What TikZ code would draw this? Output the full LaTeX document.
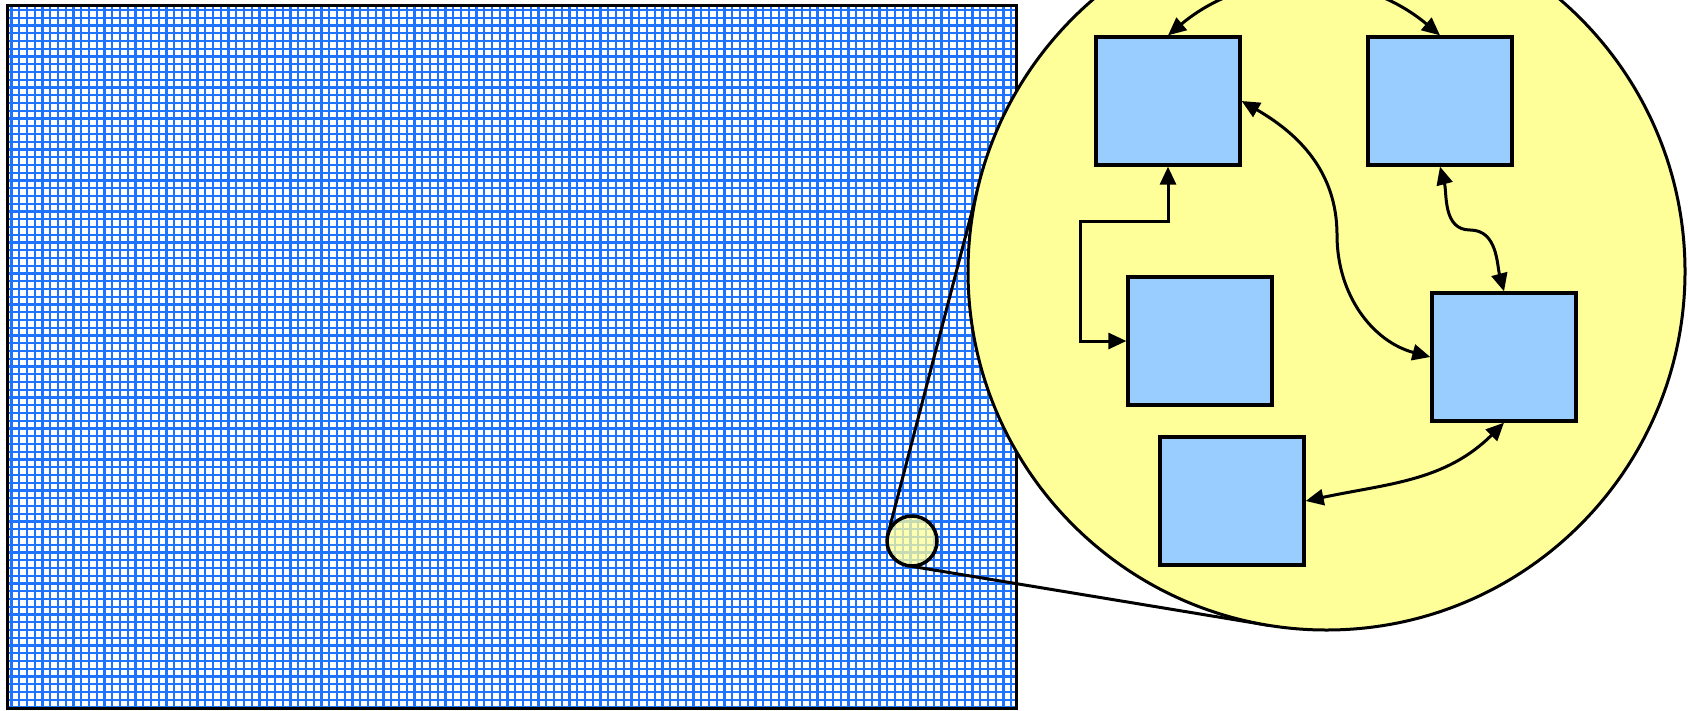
\documentclass[tikz,border=0pt]{standalone}
\usetikzlibrary{arrows.meta}
\definecolor{gridblue}{RGB}{30,115,255}
\definecolor{lensyellow}{RGB}{255,255,153}
\definecolor{cellblue}{RGB}{153,204,255}
\begin{document}
\begin{tikzpicture}[x=1pt,y=1pt,line width=3pt,
  >={Triangle[length=18pt,width=16pt]},
  cell/.style={draw,fill=cellblue,line width=3.3pt,minimum width=144pt,minimum height=128pt,inner sep=0pt},
  link/.style={<->,line width=3pt}]
  \useasboundingbox (0,0) rectangle (1688,-710);
  \clip (0,0) rectangle (1688,-710);

  % fine grid
  \begin{scope}
    \clip (7.5,-5.5) rectangle (1016,-708);
    \fill[white] (7.5,-5.5) rectangle (1016,-708);
    \foreach \x in {11.5,19.25,...,1016}
      \draw[gridblue,line width=2.2pt] (\x,-5.5) -- (\x,-708);
    \foreach \y in {10,17.75,...,708}
      \draw[gridblue,line width=2.2pt] (7.5,-\y) -- (1016,-\y);
  \end{scope}
  \draw (7.5,-5.5) rectangle (1016,-708);

  % magnifier
  \coordinate (S) at (912,-541);
  \coordinate (L) at (1326.5,-271.5);
  \coordinate (s1) at (887.8,-534.7);
  \coordinate (s2) at (907.9,-565.7);
  \coordinate (l1) at (979.9,-181.0);
  \coordinate (l2) at (1268.4,-625.3);

  \draw[fill=lensyellow,fill opacity=0.75,line width=3.5pt] (S) circle (25);
  \draw (s1) -- (l1);
  \draw (s2) -- (l2);
  \draw[fill=lensyellow] (L) circle (358.5);

  \node[cell] (A) at (1168,-101) {};
  \node[cell] (B) at (1440,-101) {};
  \node[cell] (C) at (1200,-341) {};
  \node[cell] (D) at (1504,-357) {};
  \node[cell] (E) at (1232,-501) {};

  \coordinate (bend1) at (1337,-235);
  \coordinate (bend2) at (1470,-230);
  \coordinate (elbow) at (1080,-221);

  \draw[link] (A.north) to[out=40,in=140] (B.north);
  \draw[link] (A.east) to[out=-30,in=90] (bend1) to[out=-90,in=165] (D.west);
  \draw[link] (B.south) to[out=-75,in=180] (bend2) to[out=0,in=105] (D.north);
  \draw[link] (A.south) |- (elbow) |- (C.west);
  \draw[link] (E.east) to[out=12,in=-135] (D.south);
\end{tikzpicture}
\end{document}
